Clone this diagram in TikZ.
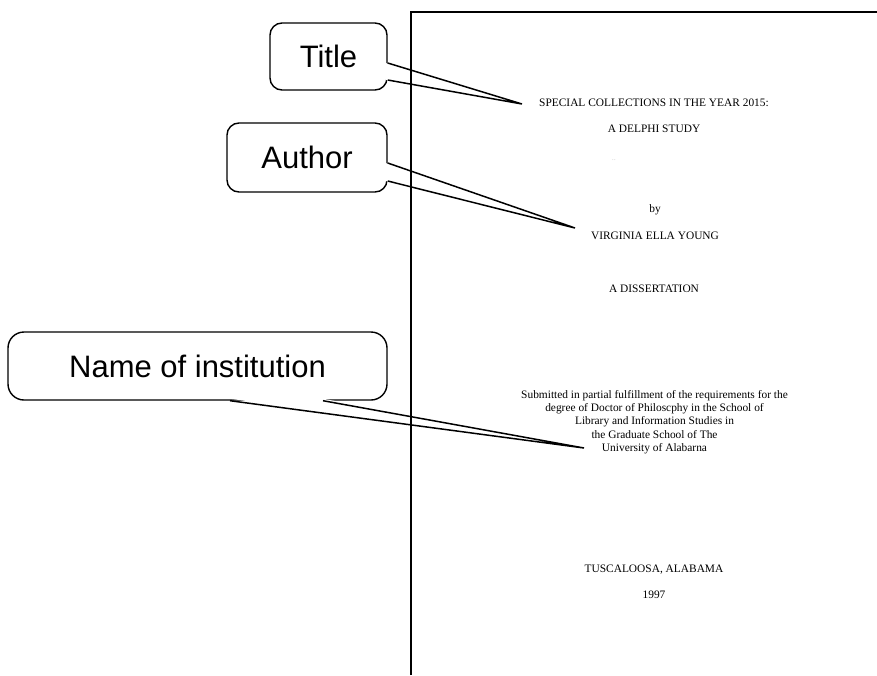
\documentclass[tikz,border=0pt]{standalone}
\usepackage{fontspec}
\setmainfont{Liberation Serif}
\newfontfamily\calloutfont{Liberation Sans}
\usetikzlibrary{calc}

\begin{document}
\begin{tikzpicture}[
    x=1pt,y=-1pt,
    callout/.style={draw,line width=1.4pt,rounded corners=12pt,inner sep=0pt,font=\calloutfont\fontsize{31}{31}\selectfont},
    tail/.style={line width=1.5pt},
    page/.style={line width=1.8pt},
    pagetext/.style={anchor=base,inner sep=0pt,align=center,font=\fontsize{11.4}{13.3}\selectfont}
    ]
    \useasboundingbox (0,0) rectangle (877,675);
    \node[callout,minimum width=117pt,minimum height=67pt] (title) at (328.5,56.5) {Title};
    \node[callout,minimum width=160pt,minimum height=69pt] (author) at (307,157.5) {Author};
    \node[callout,rounded corners=16pt,minimum width=379pt,minimum height=68pt] (inst) at (197.5,366) {Name of institution};
    \coordinate (titletip) at (522,104);
    \coordinate (authortip) at (575,228);
    \coordinate (insttip) at (584,448);
    \coordinate (titlea) at ($(title.east)+(0,6.5)$);
    \coordinate (titleb) at ($(title.east)+(0,23.5)$);
    \coordinate (authora) at ($(author.east)+(0,5.5)$);
    \coordinate (authorb) at ($(author.east)+(0,23.5)$);
    \coordinate (insta) at ($(inst.south)+(32.5,0)$);
    \coordinate (instb) at ($(inst.south)+(125.5,0)$);
    \fill[white] ($(titlea)+(-2,0)$) -- (titletip) -- ($(titleb)+(-2,0)$) -- cycle;
    \fill[white] ($(authora)+(-2,0)$) -- (authortip) -- ($(authorb)+(-2,0)$) -- cycle;
    \fill[white] ($(insta)+(0,-2)$) -- (insttip) -- ($(instb)+(0,-2)$) -- cycle;
    \draw[tail] (titlea) -- (titletip) -- (titleb);
    \draw[tail] (authora) -- (authortip) -- (authorb);
    \draw[tail] (insta) -- (insttip) -- (instb);
    \draw[page] (411,675) -- (411,12) -- (877,12);
    \node[pagetext] (head1) at (654,106) {SPECIAL COLLECTIONS IN THE YEAR 2015:};
    \node[pagetext] (head2) at (654,132.7) {A DELPHI STUDY};
    \node[pagetext,text=gray,font=\fontsize{5}{5}\selectfont] (dots) at (614,160) {.\,.};
    \node[pagetext] (byline) at (655,212.5) {by};
    \node[pagetext] (authorname) at (655,239.3) {VIRGINIA ELLA YOUNG};
    \node[pagetext] (dissertation) at (654,292) {A DISSERTATION};
    \node[pagetext] (submitted) at (654.5,451.5) {Submitted in partial fulfillment of the requirements for the\\
      degree of Doctor of Philoscphy in the School of\\
      Library and Information Studies in\\
      the Graduate School of The\\
      University of Alabarna};
    \node[pagetext] (place) at (654,572.3) {TUSCALOOSA, ALABAMA};
    \node[pagetext] (year) at (654,598.3) {1997};
\end{tikzpicture}
\end{document}
